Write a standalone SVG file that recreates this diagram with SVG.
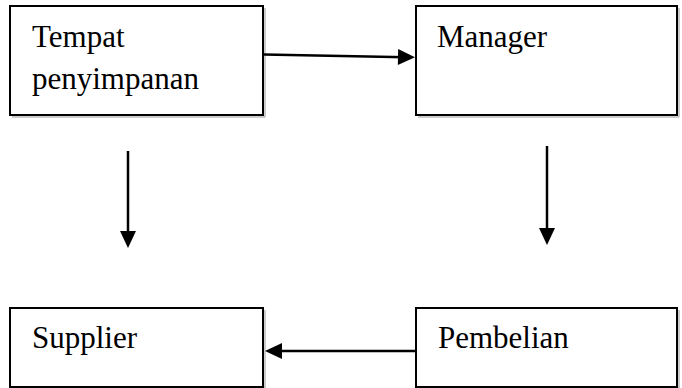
<svg xmlns="http://www.w3.org/2000/svg" width="682" height="388" viewBox="0 0 682 388">
<style>
.box{fill:#fff;stroke:#000;stroke-width:2}
.sh{fill:none;stroke:#9a9a9a;stroke-width:1}
.t{font-family:"Liberation Serif","Times New Roman",serif;font-size:31px;fill:#000}
.c{stroke:#000;stroke-width:2.5;fill:none}
</style>
<defs>
<marker id="ah" viewBox="0 0 17 16" markerWidth="17" markerHeight="16" refX="8" refY="8" orient="auto" markerUnits="userSpaceOnUse" overflow="visible">
<path d="M0,0 L17,8 L0,16 Z" fill="#000"/>
</marker>
</defs>
<rect width="682" height="388" fill="#fff"/>
<g id="tempat">
<path class="sh" d="M265,8 V117 H12"/>
<rect class="box" x="10" y="6" width="253" height="109"/>
<text class="t" x="32" y="47">Tempat</text>
<text class="t" x="32" y="89">penyimpanan</text>
</g>
<g id="manager">
<path class="sh" d="M679,8 V117 H418"/>
<rect class="box" x="416" y="6" width="261" height="109"/>
<text class="t" x="437" y="47">Manager</text>
</g>
<g id="supplier">
<path class="sh" d="M265,310 V388 H12"/>
<rect class="box" x="10" y="308" width="253" height="79"/>
<text class="t" x="32" y="348">Supplier</text>
</g>
<g id="pembelian">
<path class="sh" d="M679,310 V388 H418"/>
<rect class="box" x="416" y="308" width="261" height="79"/>
<text class="t" x="438" y="348">Pembelian</text>
</g>
<g id="connectors">
<line class="c" x1="264" y1="54.5" x2="406" y2="57.2" marker-end="url(#ah)"/>
<line class="c" x1="128" y1="151" x2="128" y2="239" marker-end="url(#ah)"/>
<line class="c" x1="547" y1="146" x2="547" y2="236" marker-end="url(#ah)"/>
<line class="c" x1="416" y1="351" x2="274" y2="351" marker-end="url(#ah)"/>
</g>
</svg>
